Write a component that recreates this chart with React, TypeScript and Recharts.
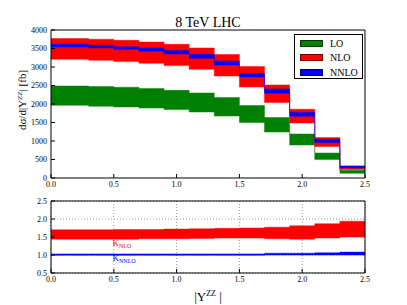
import { Area, CartesianGrid, ComposedChart, Legend, ReferenceDot, XAxis, YAxis } from 'recharts'

// bin edges in |Y^ZZ| (last edge closes the final bin)
const edges = [0, 0.3, 0.5, 0.7, 0.9, 1.1, 1.3, 1.5, 1.7, 1.9, 2.1, 2.3, 2.5]

// dsigma/d|Y| [fb], scale band low / high per bin
const loLow = [1965, 1938, 1920, 1892, 1849, 1784, 1676, 1497, 1243, 892, 497, 127]
const loHigh = [2487, 2470, 2452, 2416, 2370, 2298, 2173, 1957, 1633, 1189, 676, 208]
const nloLow = [3208, 3181, 3146, 3100, 3038, 2938, 2757, 2460, 2038, 1487, 849, 227]
const nloHigh = [3768, 3749, 3722, 3676, 3614, 3514, 3335, 3011, 2514, 1857, 1092, 324]
const nnloLow = [3541, 3514, 3480, 3425, 3352, 3235, 3054, 2730, 2289, 1668, 957, 270]
const nnloHigh = [3614, 3587, 3550, 3514, 3443, 3343, 3163, 2822, 2406, 1776, 1046, 324]

// K factors
const kNloLow = [1.44, 1.44, 1.44, 1.45, 1.45, 1.46, 1.47, 1.47, 1.45, 1.44, 1.47, 1.5]
const kNloHigh = [1.7, 1.7, 1.71, 1.71, 1.72, 1.73, 1.74, 1.75, 1.77, 1.81, 1.87, 1.94]
const kNnloLow = [0.99, 0.99, 0.99, 0.99, 0.99, 0.99, 0.99, 0.99, 1.0, 1.0, 1.0, 1.0]
const kNnloHigh = [1.03, 1.03, 1.03, 1.03, 1.03, 1.03, 1.03, 1.03, 1.05, 1.05, 1.06, 1.08]

const xTicks = [0, 0.5, 1, 1.5, 2, 2.5]
const yTicksTop = [0, 500, 1000, 1500, 2000, 2500, 3000, 3500, 4000]
const yTicksBottom = [0.5, 1, 1.5, 2, 2.5]

const legendItems = [
  { name: 'LO', color: '#008000' },
  { name: 'NLO', color: '#ff0000' },
  { name: 'NNLO', color: '#0000ff' },
]

const FONT = '"Liberation Serif", "Times New Roman", serif'

// step data: one row per edge, last row repeats the last bin
const bin = (i: number) => Math.min(i, loLow.length - 1)
const data = edges.map((x, i) => {
  const b = bin(i)
  return {
    x,
    lo: [loLow[b], loHigh[b]],
    nlo: [nloLow[b], nloHigh[b]],
    nnlo: [nnloLow[b], nnloHigh[b]],
    kNlo: [kNloLow[b], kNloHigh[b]],
    kNnlo: [kNnloLow[b], kNnloHigh[b]],
  }
})

const tickStyle = { fontSize: 8, fontFamily: FONT, fill: '#000' }
const fmt1 = (v: number) => v.toFixed(1)

function LegendBox() {
  return (
    <div style={{ border: '1px solid #000', background: '#fff', width: 67, height: 42, paddingTop: 1, boxSizing: 'content-box', fontFamily: FONT, fontSize: 10 }}>
      {legendItems.map((it) => (
        <div key={it.name} style={{ display: 'flex', alignItems: 'center', height: 14.5 }}>
          <span style={{ display: 'inline-block', width: 21, height: 5, background: it.color, border: '1px solid rgba(0,0,0,0.55)', marginLeft: 5, marginRight: 7 }} />
          <span>{it.name}</span>
        </div>
      ))}
    </div>
  )
}

function KLabel(props: any) {
  const { cx, cy, name, color } = props
  return (
    <text x={cx} y={cy} fill={color} fontFamily={FONT} fontSize={9}>
      K
      <tspan fontSize={6} dy={2}>{name}</tspan>
    </text>
  )
}

function App() {
  return (
    <div style={{ position: 'absolute', left: 0, top: 0, width: 407, height: 305, background: '#fff' }}>
      <div style={{ position: 'absolute', left: 0, top: 0 }}>
        <ComposedChart width={407} height={195} data={data} margin={{ top: 29, right: 41, left: 0, bottom: 0 }}>
          <XAxis dataKey='x' type='number' domain={[0, 2.5]} ticks={xTicks} tickFormatter={fmt1} height={17}
            stroke='#000' tickSize={-4} tickMargin={7} tick={tickStyle} interval={0} />
          <XAxis xAxisId='top' orientation='top' dataKey='x' type='number' domain={[0, 2.5]} ticks={xTicks} height={1}
            stroke='#000' tickSize={-4} tick={false}
            label={{
              content: (p: any) => (
                <text x={p.viewBox.x + p.viewBox.width / 2} y={p.viewBox.y - 2.5} textAnchor='middle' fontFamily={FONT} fontSize={14} fill='#000'>
                  8 TeV LHC
                </text>
              ),
            }} />
          <YAxis type='number' domain={[0, 4000]} ticks={yTicksTop} width={51} stroke='#000' tickSize={-4} tickMargin={8} tick={tickStyle} interval={0}
            label={{
              content: (p: any) => (
                <text x={26} y={p.viewBox.y + 70} transform={`rotate(-90, 26, ${p.viewBox.y + 70})`} textAnchor='middle' fontFamily={FONT} fontSize={11} fill='#000'>
                  dσ/d|Y<tspan fontSize={7} dy={-4}>ZZ</tspan><tspan dy={4}>| [fb]</tspan>
                </text>
              ),
            }} />
          <YAxis yAxisId='right' orientation='right' type='number' domain={[0, 4000]} ticks={yTicksTop} width={1} stroke='#000' tickSize={-4} tick={false} />
          <Legend verticalAlign='middle' align='center' layout='horizontal' content={() => <LegendBox />}
            wrapperStyle={{ position: 'absolute', left: 294, top: 34, width: 69, height: 44 }} />
          <Area type='stepAfter' dataKey='lo' fill='#008000' fillOpacity={1} stroke='#008000' strokeOpacity={0.45} isAnimationActive={false} name='LO' />
          <Area type='stepAfter' dataKey='nlo' fill='#ff0000' fillOpacity={1} stroke='#ff0000' strokeOpacity={0.45} isAnimationActive={false} name='NLO' />
          <Area type='stepAfter' dataKey='nnlo' fill='#0000ff' fillOpacity={1} stroke='#0000ff' strokeOpacity={0.45} isAnimationActive={false} name='NNLO' />
        </ComposedChart>
      </div>
      <div style={{ position: 'absolute', left: 0, top: 190 }}>
        <ComposedChart width={407} height={115} data={data} margin={{ top: 10, right: 41, left: 0, bottom: 0 }}>
          <CartesianGrid stroke='#999' strokeDasharray='1 2' />
          <XAxis dataKey='x' type='number' domain={[0, 2.5]} ticks={xTicks} tickFormatter={fmt1} height={32}
            stroke='#000' tickSize={-4} tickMargin={7} tick={tickStyle} interval={0}
            label={{
              content: (p: any) => (
                <text x={p.viewBox.x + p.viewBox.width / 2} y={p.viewBox.y + 28} textAnchor='middle' fontFamily={FONT} fontSize={13} fill='#000'>
                  |Y<tspan fontSize={8} dy={-5}>ZZ</tspan><tspan dy={5}> |</tspan>
                </text>
              ),
            }} />
          <XAxis xAxisId='top' orientation='top' dataKey='x' type='number' domain={[0, 2.5]} ticks={xTicks} height={1}
            stroke='#000' tickSize={-4} tick={false} />
          <YAxis type='number' domain={[0.5, 2.5]} ticks={yTicksBottom} tickFormatter={fmt1} width={51} stroke='#000' tickSize={-4} tickMargin={8} tick={tickStyle} interval={0} />
          <YAxis yAxisId='right' orientation='right' type='number' domain={[0.5, 2.5]} ticks={yTicksBottom} width={1} stroke='#000' tickSize={-4} tick={false} />
          <Area type='stepAfter' dataKey='kNlo' fill='#ff0000' fillOpacity={1} stroke='#ff0000' strokeOpacity={0.45} isAnimationActive={false} />
          <Area type='stepAfter' dataKey='kNnlo' fill='#0000ff' fillOpacity={1} stroke='#0000ff' strokeOpacity={0.45} isAnimationActive={false} />
          <ReferenceDot x={0.49} y={1.25} r={0} shape={(p: any) => <KLabel {...p} name='NLO' color='#ff0000' />} />
          <ReferenceDot x={0.49} y={0.84} r={0} shape={(p: any) => <KLabel {...p} name='NNLO' color='#0000ff' />} />
        </ComposedChart>
      </div>
    </div>
  )
}

export default App
